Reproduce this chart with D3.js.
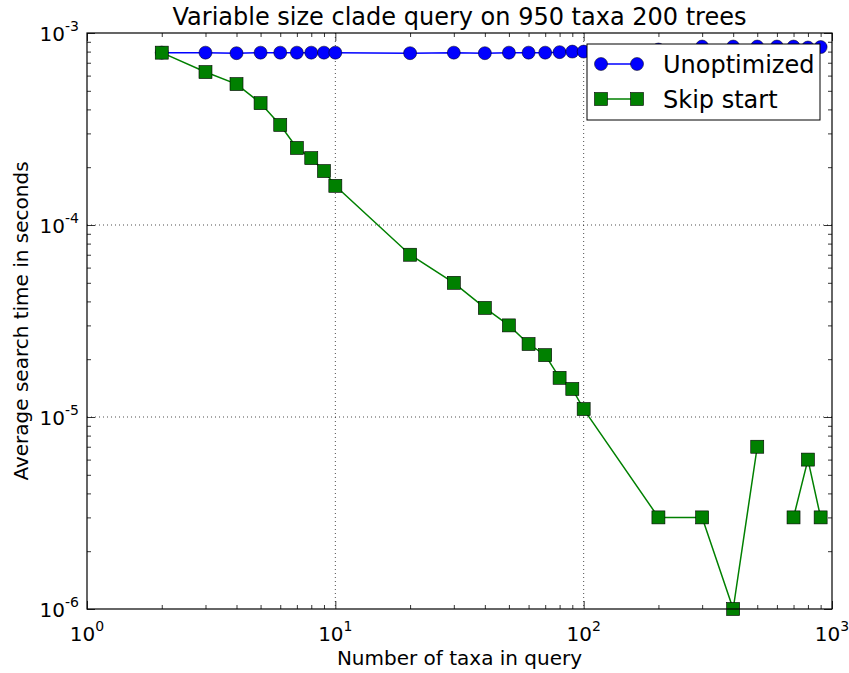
<!DOCTYPE html>
<html>
<head>
<meta charset="utf-8">
<script src="https://cdn.jsdelivr.net/npm/d3@7"></script>
<style>
  body { margin: 0; background: #fff; }
  svg { font-family: "DejaVu Sans", sans-serif; }
</style>
</head>
<body>
<script>
// data
var taxa = [2, 3, 4, 5, 6, 7, 8, 9, 10, 20, 30, 40, 50, 60, 70, 80, 90, 100,
            200, 300, 400, 500, 600, 700, 800, 900];
var unoptimized = [7.9e-4, 7.9e-4, 7.85e-4, 7.9e-4, 7.9e-4, 7.9e-4, 7.9e-4, 7.9e-4, 7.9e-4,
                   7.85e-4, 7.9e-4, 7.85e-4, 7.9e-4, 7.9e-4, 7.9e-4, 7.95e-4, 8.0e-4, 8.0e-4,
                   8.2e-4, 8.5e-4, 8.5e-4, 8.5e-4, 8.5e-4, 8.5e-4, 8.4e-4, 8.45e-4];
// 600 has no skip-start time (gap in the line)
var skipStart = [7.9e-4, 6.26e-4, 5.42e-4, 4.31e-4, 3.32e-4, 2.52e-4, 2.23e-4, 1.91e-4, 1.6e-4,
                 7.0e-5, 5.0e-5, 3.7e-5, 3.0e-5, 2.4e-5, 2.1e-5, 1.6e-5, 1.4e-5, 1.1e-5,
                 3e-6, 3e-6, 1e-6, 7e-6, null, 3e-6, 6e-6, 3e-6];
var seriesNames = ['Unoptimized', 'Skip start'];
var xTicks = [1, 10, 100, 1000];
var yTicks = [1e-6, 1e-5, 1e-4, 1e-3];

var svgWidth = 849, svgHeight = 673;
var plotLeft = 87, plotRight = 832, plotTop = 33, plotBottom = 609;

var xScale = d3.scaleLog().domain([1, 1000]).range([plotLeft, plotRight]);
var yScale = d3.scaleLog().domain([1e-6, 1e-3]).range([plotBottom, plotTop]);

var svg = d3.select('body').append('svg')
    .attr('width', svgWidth)
    .attr('height', svgHeight);

// minor tick values
var xMinor = [], yMinor = [];
[1, 10, 100].forEach(function (d) { for (var k = 2; k <= 9; k++) xMinor.push(d * k); });
[1e-6, 1e-5, 1e-4].forEach(function (d) { for (var k = 2; k <= 9; k++) yMinor.push(d * k); });

// grid
svg.append('g').selectAll('line')
    .data(xTicks.slice(1, -1))
    .enter().append('line')
    .attr('x1', d => xScale(d)).attr('x2', d => xScale(d))
    .attr('y1', plotTop).attr('y2', plotBottom)
    .attr('stroke', '#000').attr('stroke-width', 0.7).attr('stroke-dasharray', '1,3');
svg.append('g').selectAll('line')
    .data(yTicks.slice(1, -1))
    .enter().append('line')
    .attr('y1', d => yScale(d)).attr('y2', d => yScale(d))
    .attr('x1', plotLeft).attr('x2', plotRight)
    .attr('stroke', '#000').attr('stroke-width', 0.7).attr('stroke-dasharray', '1,3');

// ticks on all four sides, pointing inward
function tickAxis(axisFn, scale, values, size, transform) {
    var g = svg.append('g')
        .attr('transform', transform)
        .call(axisFn(scale).tickValues(values).tickSize(size).tickFormat(''));
    g.select('.domain').remove();
    g.selectAll('line').attr('stroke', '#000').attr('stroke-width', 0.8);
}
tickAxis(d3.axisTop, xScale, xTicks, 8, `translate(0,${plotBottom})`);
tickAxis(d3.axisTop, xScale, xMinor, 4, `translate(0,${plotBottom})`);
tickAxis(d3.axisBottom, xScale, xTicks, 8, `translate(0,${plotTop})`);
tickAxis(d3.axisBottom, xScale, xMinor, 4, `translate(0,${plotTop})`);
tickAxis(d3.axisRight, yScale, yTicks, 8, `translate(${plotLeft},0)`);
tickAxis(d3.axisRight, yScale, yMinor, 4, `translate(${plotLeft},0)`);
tickAxis(d3.axisLeft, yScale, yTicks, 8, `translate(${plotRight},0)`);
tickAxis(d3.axisLeft, yScale, yMinor, 4, `translate(${plotRight},0)`);

// tick labels with superscript exponents
function powerLabel(sel, v) {
    var e = Math.round(Math.log10(v));
    sel.append('tspan').text('10');
    sel.append('tspan').attr('dy', -10).attr('font-size', 14).text(e);
}
xTicks.forEach(function (v) {
    var t = svg.append('text')
        .attr('x', xScale(v)).attr('y', 641)
        .attr('text-anchor', 'middle')
        .attr('font-size', 20);
    powerLabel(t, v);
});
yTicks.forEach(function (v) {
    var t = svg.append('text')
        .attr('x', 79).attr('y', yScale(v) + 8)
        .attr('text-anchor', 'end')
        .attr('font-size', 20);
    powerLabel(t, v);
});

// series
var blue = '#0000ff', green = '#008000';
var ptsA = taxa.map((d, i) => [d, unoptimized[i]]);
var ptsB = taxa.map((d, i) => [d, skipStart[i]]);

var line = d3.line()
    .defined(d => d[1] != null)
    .x(d => xScale(d[0]))
    .y(d => yScale(d[1]));

var plot = svg.append('g');

plot.append('path').datum(ptsA)
    .attr('d', line).attr('fill', 'none')
    .attr('stroke', blue).attr('stroke-width', 1.5);
plot.selectAll('circle.a').data(ptsA).enter().append('circle')
    .attr('class', 'a')
    .attr('cx', d => xScale(d[0])).attr('cy', d => yScale(d[1]))
    .attr('r', 6.5).attr('fill', blue).attr('stroke', '#000').attr('stroke-width', 0.5);

plot.append('path').datum(ptsB)
    .attr('d', line).attr('fill', 'none')
    .attr('stroke', green).attr('stroke-width', 1.5);
plot.selectAll('rect.b').data(ptsB.filter(d => d[1] != null)).enter().append('rect')
    .attr('class', 'b')
    .attr('x', d => xScale(d[0]) - 6.5).attr('y', d => yScale(d[1]) - 6.5)
    .attr('width', 13).attr('height', 13)
    .attr('fill', green).attr('stroke', '#000').attr('stroke-width', 0.6);

// frame
svg.append('rect')
    .attr('x', plotLeft).attr('y', plotTop)
    .attr('width', plotRight - plotLeft).attr('height', plotBottom - plotTop)
    .attr('fill', 'none').attr('stroke', '#000').attr('stroke-width', 1.2);

// legend
var legend = svg.append('g');
legend.append('rect')
    .attr('x', 587).attr('y', 44).attr('width', 233).attr('height', 76)
    .attr('fill', '#fff').attr('stroke', '#000').attr('stroke-width', 1);
seriesNames.forEach(function (name, i) {
    var y = 64 + i * 35;
    var col = i === 0 ? blue : green;
    legend.append('line')
        .attr('x1', 601).attr('x2', 637).attr('y1', y).attr('y2', y)
        .attr('stroke', col).attr('stroke-width', 1.5);
    [601, 637].forEach(function (x) {
        if (i === 0) {
            legend.append('circle').attr('cx', x).attr('cy', y).attr('r', 6.5)
                .attr('fill', col).attr('stroke', '#000').attr('stroke-width', 0.5);
        } else {
            legend.append('rect').attr('x', x - 6.5).attr('y', y - 6.5)
                .attr('width', 13).attr('height', 13)
                .attr('fill', col).attr('stroke', '#000').attr('stroke-width', 0.6);
        }
    });
    legend.append('text')
        .attr('x', 663).attr('y', y + 9)
        .attr('font-size', 24)
        .text(name);
});

// titles
svg.append('text')
    .attr('x', (plotLeft + plotRight) / 2).attr('y', 25)
    .attr('text-anchor', 'middle').attr('font-size', 24)
    .text('Variable size clade query on 950 taxa 200 trees');
svg.append('text')
    .attr('x', (plotLeft + plotRight) / 2).attr('y', 665)
    .attr('text-anchor', 'middle').attr('font-size', 20)
    .text('Number of taxa in query');
svg.append('text')
    .attr('transform', `translate(28,${(plotTop + plotBottom) / 2}) rotate(-90)`)
    .attr('text-anchor', 'middle').attr('font-size', 20)
    .text('Average search time in seconds');
</script>
</body>
</html>
